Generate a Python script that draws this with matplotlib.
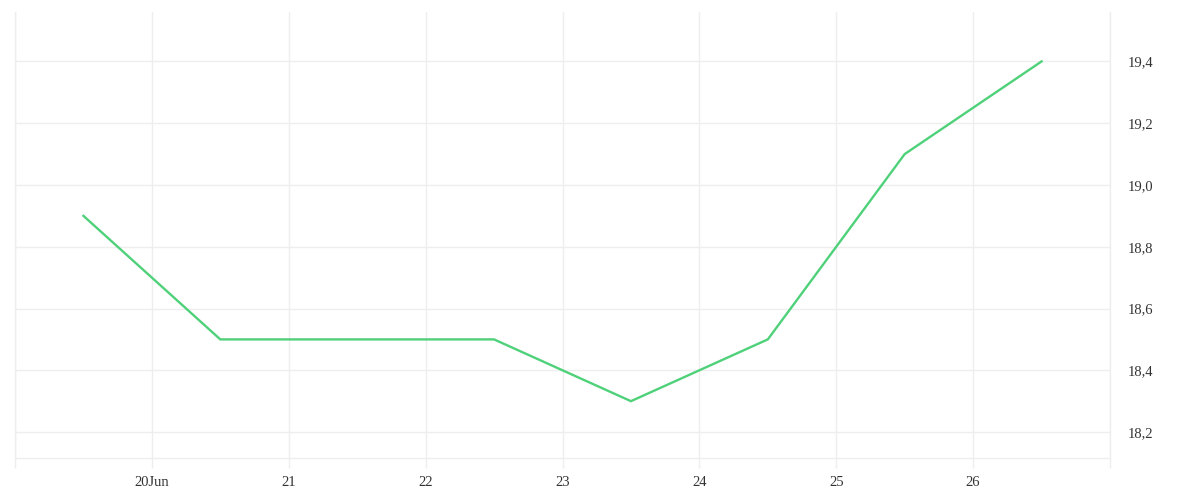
import matplotlib.pyplot as plt
import matplotlib.dates as mdates
import matplotlib.ticker as mticker
import pandas as pd

# daily readings, stamped at midday
dates = ["2024-06-19 12:00", "2024-06-20 12:00", "2024-06-21 12:00", "2024-06-22 12:00",
         "2024-06-23 12:00", "2024-06-24 12:00", "2024-06-25 12:00", "2024-06-26 12:00"]
values = [18.9, 18.5, 18.5, 18.5, 18.3, 18.5, 19.1, 19.4]
y_ticks = [18.2, 18.4, 18.6, 18.8, 19.0, 19.2, 19.4]

grid_col = "#eeeeee"
text_col = "#333333"

plt.rcParams['font.family'] = ['Liberation Serif', 'DejaVu Serif']

x = pd.to_datetime(dates)

fig = plt.figure(figsize=(12, 5), dpi=100)
ax = fig.add_axes([0.0125, 0.084, 0.9125, 0.892])

ax.plot(x, values, color="#4fd17a", linewidth=1.7, solid_joinstyle="miter")

ax.set_xlim(pd.Timestamp("2024-06-19"), pd.Timestamp("2024-06-27"))
ax.set_ylim(18.116, 19.56)

ax.xaxis.set_major_locator(mdates.DayLocator())


def day_label(v, pos):
    d = mdates.num2date(v)
    if d.day in (19, 27):
        return ""
    if d.day == 20:
        return "20Jun"
    return str(d.day)


ax.xaxis.set_major_formatter(mticker.FuncFormatter(day_label))
ax.yaxis.set_major_locator(mticker.FixedLocator(y_ticks))
ax.yaxis.set_major_formatter(mticker.FuncFormatter(lambda v, p: f"{v:.1f}".replace(".", ",")))

ax.yaxis.tick_right()
ax.tick_params(axis="y", length=0, pad=12.5, labelsize=10.5, labelcolor=text_col)
ax.tick_params(axis="x", length=7.2, width=1, color=grid_col, pad=6,
               labelsize=10.5, labelcolor=text_col)

ax.grid(True, color=grid_col, linewidth=1)
ax.set_axisbelow(True)

for side in ["left", "right", "bottom"]:
    ax.spines[side].set_color(grid_col)
    ax.spines[side].set_linewidth(1)
ax.spines["top"].set_visible(False)

fig.savefig("out.png", dpi=100)
